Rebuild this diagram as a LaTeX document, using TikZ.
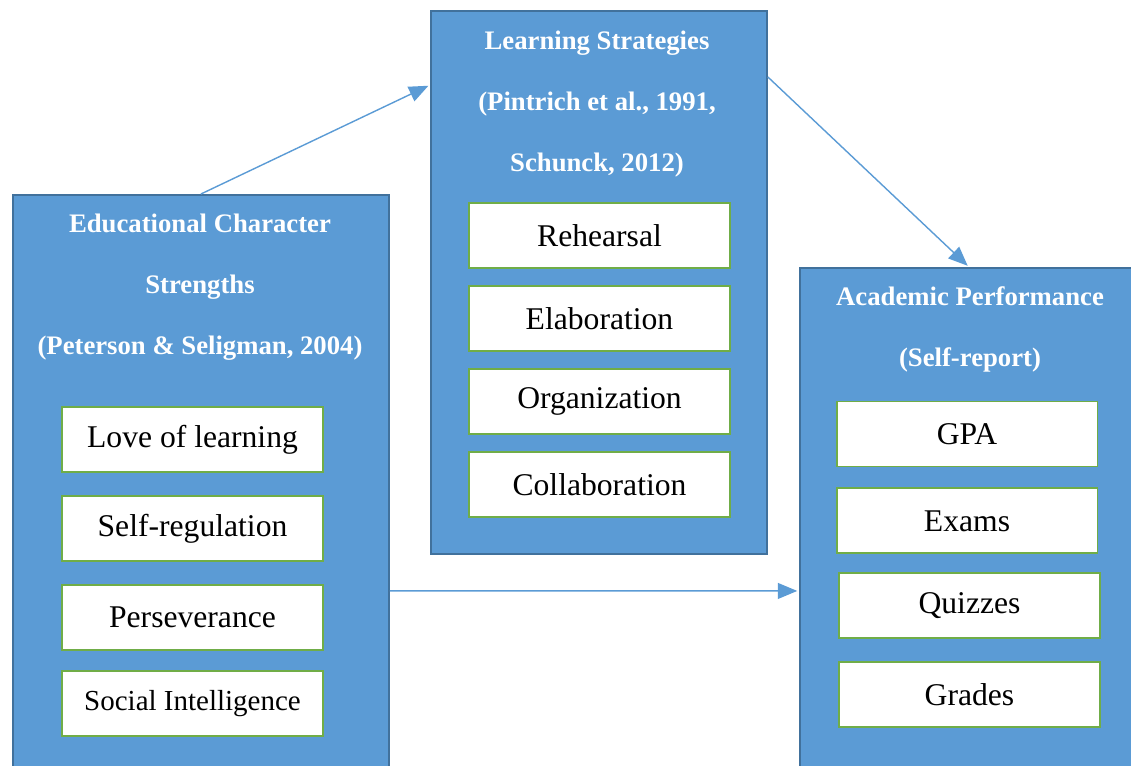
\documentclass[tikz,border=0pt]{standalone}
\usepackage{fontspec}
\setmainfont{Liberation Serif}
\usepackage{xcolor}
\usepackage{tikz}
\usetikzlibrary{arrows.meta,positioning,calc}

\definecolor{boxblue}{HTML}{5B9BD5}
\definecolor{boxedge}{HTML}{41719C}
\definecolor{itemgreen}{HTML}{70AD47}

\begin{document}
\begin{tikzpicture}[x=0.02cm,y=-0.02cm]
	\tikzset{
		group/.style={draw=boxedge,fill=boxblue,line width=1.1pt,anchor=north west,inner sep=0pt},
		heading/.style={text=white,font=\bfseries\fontsize{15.2}{34.7}\selectfont,align=center,anchor=base},
		item/.style={draw=itemgreen,fill=white,line width=1.1pt,minimum width=5.22cm,minimum height=1.3cm,inner sep=0pt,font=\fontsize{18}{20}\selectfont},
		flow/.style={-{Triangle[length=11pt,width=9pt]},draw=boxblue,line width=0.8pt,shorten >=1pt}
	}
	\useasboundingbox (0,0) rectangle (1131,765);
	\clip (0,0) rectangle (1131,765);
	
	% the three groups
	\node[group,minimum width=7.52cm,minimum height=12.12cm](char) at (12,194){};
	\node[group,minimum width=6.72cm,minimum height=10.86cm](strat) at (430,10){};
	\node[group,minimum width=7.22cm,minimum height=10.66cm](acad) at (799,267){};
	
	% headings, placed at the baseline of their last line
	\node[heading](chartitle) at (200,354){Educational Character\\Strengths\\(Peterson \& Seligman, 2004)};
	\node[heading](strattitle) at (597,171){Learning Strategies\\(Pintrich et al., 1991,\\Schunck, 2012)};
	\node[heading](acadtitle) at (970,366){Academic Performance\\(Self-report)};
	
	% character strengths
	\node[item](love) at (192.5,439.5){Love of learning};
	\node[item,below=0.44cm of love](selfreg){Self-regulation};
	\node[item,below=0.44cm of selfreg](persev){Perseverance};
	\node[item,below=0.38cm of persev,font=\fontsize{16.5}{18}\selectfont](social){Social Intelligence};
	
	% learning strategies
	\node[item](rehearsal) at (599.5,235.5){Rehearsal};
	\node[item,below=0.32cm of rehearsal](elab){Elaboration};
	\node[item,below=0.32cm of elab](organ){Organization};
	\node[item,below=0.32cm of organ](collab){Collaboration};
	
	% academic performance
	\node[item](gpa) at (967,434){GPA};
	\node[item,below=0.40cm of gpa](exams){Exams};
	\node[item,below=0.36cm of exams,xshift=0.05cm](quizzes){Quizzes};
	\node[item,below=0.44cm of quizzes](grades){Grades};
	
	\draw[flow] (char.north) -- ([yshift=-1.5cm]strat.north west);
	\draw[flow] ([yshift=-1.34cm]strat.north east) -- ([xshift=3.4cm]acad.north west);
	\draw[flow] ([yshift=-7.94cm]char.north east) -- ([yshift=-6.48cm]acad.north west);
\end{tikzpicture}
\end{document}
